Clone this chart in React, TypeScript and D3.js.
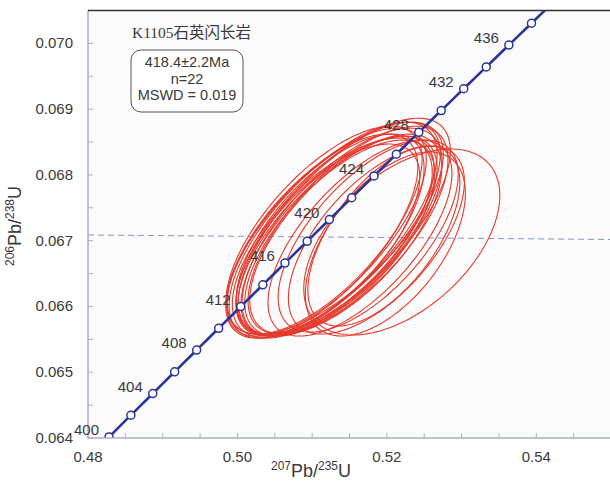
import React from "react";
import * as d3 from "d3";

const W = 610;
const H = 483;

// Axis domains and ticks
const xDomain = [0.48, 0.55];
const yDomain = [0.064, 0.0705];
const xTickLabels = [0.48, 0.5, 0.52, 0.54];
const xMinorTicks = [0.48, 0.485, 0.49, 0.495, 0.5, 0.505, 0.51, 0.515, 0.52, 0.525, 0.53, 0.535, 0.54, 0.545];
const yTickLabels = [0.064, 0.065, 0.066, 0.067, 0.068, 0.069, 0.07];
const yMinorTicks = [0.064, 0.0645, 0.065, 0.0655, 0.066, 0.0665, 0.067, 0.0675, 0.068, 0.0685, 0.069, 0.0695, 0.07];

// Concordia ages (Ma)
const markerAges = [400, 402, 404, 406, 408, 410, 412, 414, 416, 418, 420, 422, 424, 426, 428, 430, 432, 434, 436, 438];
const labelAges = [400, 404, 408, 412, 416, 420, 424, 428, 432, 436];
const LAMBDA238 = 1.55125e-10;
const LAMBDA235 = 9.8485e-10;

// Ellipse data: 207Pb/235U, 206Pb/238U, half-extent x, half-extent y, rho
const ellX = [0.5113, 0.5119, 0.5124, 0.5128, 0.5132, 0.5135, 0.5137, 0.514, 0.5143, 0.5145, 0.5121, 0.5131, 0.5136, 0.5116, 0.5127, 0.5148, 0.5164, 0.5175, 0.5186, 0.5196, 0.5198, 0.522];
const ellY = [0.06707, 0.06713, 0.0671, 0.06716, 0.06707, 0.06719, 0.06704, 0.06713, 0.06722, 0.0671, 0.06701, 0.06719, 0.06707, 0.06716, 0.06704, 0.06716, 0.06704, 0.06707, 0.06701, 0.06707, 0.06695, 0.06698];
const ellEx = [0.01285, 0.01338, 0.01258, 0.01392, 0.01312, 0.01365, 0.01272, 0.01338, 0.01419, 0.01285, 0.01231, 0.01446, 0.01312, 0.01312, 0.01338, 0.01338, 0.01231, 0.01205, 0.01178, 0.01017, 0.01071, 0.01312];
const ellEy = [0.001551, 0.001581, 0.00152, 0.001642, 0.00152, 0.001612, 0.00149, 0.001581, 0.001642, 0.00152, 0.00146, 0.001612, 0.00152, 0.001581, 0.00152, 0.001581, 0.00149, 0.00146, 0.001429, 0.001368, 0.001399, 0.001414];
const ellRho = [0.68, 0.7, 0.66, 0.7, 0.68, 0.7, 0.66, 0.68, 0.7, 0.66, 0.66, 0.7, 0.68, 0.68, 0.66, 0.68, 0.66, 0.64, 0.62, 0.6, 0.55, 0.5];

// Reference dashed line endpoints (206Pb/238U)
const refLineY = [0.067087, 0.067018];

const infoTitle = "K1105石英闪长岩";
const infoLines = ["418.4±2.2Ma", "n=22", "MSWD = 0.019"];

const left = 88;
const right = 611;
const top = 10.5;
const bottom = 438;

export default function App() {
  const x = d3.scaleLinear().domain(xDomain).range([left, right]);
  const y = d3.scaleLinear().domain(yDomain).range([bottom, top]);

  const conc = (t: number) => ({
    x: Math.exp(LAMBDA235 * t * 1e6) - 1,
    y: Math.exp(LAMBDA238 * t * 1e6) - 1,
  });

  const curveAges = d3.range(398, 446, 0.5);
  const concLine = d3
    .line<number>()
    .x((t) => x(conc(t).x))
    .y((t) => y(conc(t).y))(curveAges);

  const ellipsePath = (i: number) => {
    const n = 160;
    const pts: [number, number][] = [];
    const r = ellRho[i];
    const s = Math.sqrt(1 - r * r);
    for (let k = 0; k < n; k++) {
      const th = (k / n) * Math.PI * 2;
      const dx = ellEx[i] * Math.cos(th);
      const dy = ellEy[i] * (r * Math.cos(th) + s * Math.sin(th));
      pts.push([x(ellX[i] + dx), y(ellY[i] + dy)]);
    }
    return d3.line().curve(d3.curveLinearClosed)(pts);
  };

  const axisColor = "#a9b0c6";
  const textColor = "#3a3a3a";
  const blue = "#2b3598";

  return (
    <svg
      width={W}
      height={H}
      style={{ position: "absolute", left: 0, top: 0, background: "#fff" }}
      fontFamily="Liberation Sans, Arial, sans-serif"
    >
      <defs>
        <clipPath id="plotClip">
          <rect x={left} y={top} width={right - left} height={bottom - top} />
        </clipPath>
      </defs>
      <rect x={left} y={top} width={right - left} height={bottom - top} fill="#fbfbfb" />

      <g clipPath="url(#plotClip)">
        <line
          x1={left}
          x2={right}
          y1={y(refLineY[0])}
          y2={y(refLineY[1])}
          stroke="#8593d6"
          strokeWidth={1}
          strokeDasharray="6,4"
        />
        {ellX.map((_, i) => (
          <path key={i} d={ellipsePath(i) || ""} fill="none" stroke="#e4382a" strokeWidth={1.1} />
        ))}
        <path d={concLine || ""} fill="none" stroke={blue} strokeWidth={2.6} />
        {markerAges.map((t) => (
          <circle key={t} cx={x(conc(t).x)} cy={y(conc(t).y)} r={4} fill="#fff" stroke={blue} strokeWidth={1.5} />
        ))}
      </g>

      {/* axes */}
      <line x1={left} x2={left} y1={top} y2={bottom} stroke={axisColor} strokeWidth={1.5} />
      <line x1={left} x2={right} y1={bottom} y2={bottom} stroke={axisColor} strokeWidth={1.5} />
      <line x1={left} x2={right} y1={top} y2={top} stroke="#333" strokeWidth={1.5} />
      {yMinorTicks.map((v) => (
        <line key={v} x1={left} x2={left + 5} y1={y(v)} y2={y(v)} stroke={axisColor} strokeWidth={1} />
      ))}
      {xMinorTicks.map((v) => (
        <line key={v} x1={x(v)} x2={x(v)} y1={bottom} y2={bottom - 5} stroke={axisColor} strokeWidth={1} />
      ))}
      {yTickLabels.map((v) => (
        <text key={v} x={73} y={y(v) + 5} textAnchor="end" fontSize={15} fill={textColor}>
          {d3.format(".3f")(v)}
        </text>
      ))}
      {xTickLabels.map((v) => (
        <text key={v} x={x(v)} y={462} textAnchor="middle" fontSize={15} fill={textColor}>
          {d3.format(".2f")(v)}
        </text>
      ))}

      {/* age labels */}
      {labelAges.map((t) => (
        <text
          key={t}
          x={x(conc(t).x) - 10}
          y={y(conc(t).y) - 2}
          textAnchor="end"
          fontSize={15}
          fill={textColor}
        >
          {t}
        </text>
      ))}

      {/* axis titles */}
      <text x={311} y={477} textAnchor="middle" fill={textColor} fontSize={18}>
        <tspan fontSize={12} dy={-7}>207</tspan>
        <tspan dy={7}>Pb/</tspan>
        <tspan fontSize={12} dy={-7}>235</tspan>
        <tspan dy={7}>U</tspan>
      </text>
      <text
        transform="translate(21,226) rotate(-90)"
        textAnchor="middle"
        fill={textColor}
        fontSize={18}
      >
        <tspan fontSize={12} dy={-7}>206</tspan>
        <tspan dy={7}>Pb/</tspan>
        <tspan fontSize={12} dy={-7}>238</tspan>
        <tspan dy={7}>U</tspan>
      </text>

      {/* info */}
      <text x={132} y={38} fontSize={15.5} fill={textColor} fontFamily="Liberation Serif, Noto Sans CJK SC, serif">
        {infoTitle}
      </text>
      <rect x={131} y={50} width={112} height={62} rx={10} ry={10} fill="#fff" stroke="#555" strokeWidth={1} />
      {infoLines.map((s, i) => (
        <text key={i} x={187} y={67 + i * 16.5} textAnchor="middle" fontSize={14.5} fill={textColor}>
          {s}
        </text>
      ))}
    </svg>
  );
}
